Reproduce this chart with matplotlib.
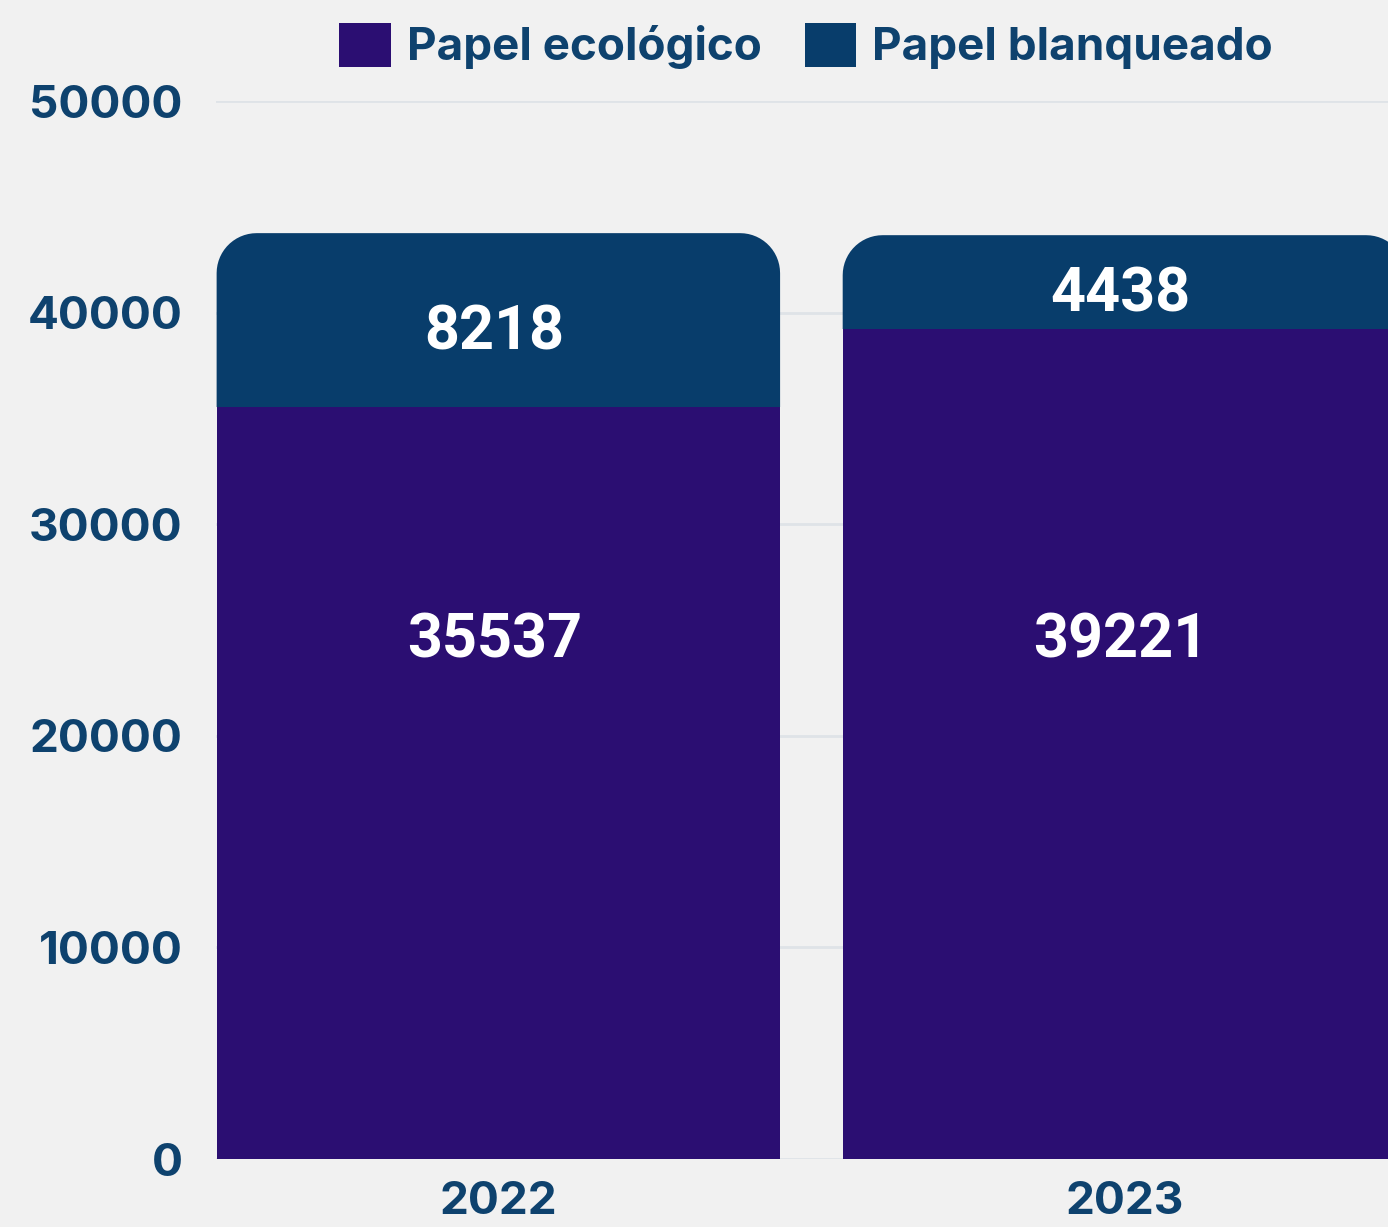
import matplotlib
matplotlib.use('Agg')
import matplotlib.pyplot as plt
from matplotlib.patches import PathPatch, Patch
from matplotlib.path import Path
import numpy as np

# data
years = ['2022', '2023']
ecologico = [35537, 39221]
blanqueado = [8218, 4438]
series_names = ['Papel ecológico', 'Papel blanqueado']
yticks = [0, 10000, 20000, 30000, 40000, 50000]

C_ECO = '#2b0e72'
C_BLA = '#083d6b'
C_TEXT = '#0e426e'
BG = '#f1f1f1'
GRID = '#dfe3e7'
FS = 33


def top_rounded(x0, x1, y0, y1, rx, ry, n=16):
    # rectangle with only its two upper corners rounded
    t = np.linspace(0, np.pi / 2, n)
    right = np.column_stack([x1 - rx + rx * np.cos(t), y1 - ry + ry * np.sin(t)])
    left = np.column_stack([x0 + rx - rx * np.sin(t), y1 - ry + ry * np.cos(t)])
    verts = np.vstack([[x0, y0], [x1, y0], right, left, [x0, y0]])
    codes = [Path.MOVETO] + [Path.LINETO] * (len(verts) - 2) + [Path.CLOSEPOLY]
    return Path(verts, codes)


W, H = 1388, 1227
fig = plt.figure(figsize=(W / 100, H / 100), dpi=100, facecolor=BG)
left, bottom, top = 216, 68, 1126
ax = fig.add_axes([left / W, bottom / H, 1 - left / W, (top - bottom) / H])
ax.set_facecolor(BG)

x = np.arange(len(years))
width = 0.9
xlim = (-0.451, 1.421)
ylim = (0, 50000)
ax.set_xlim(*xlim)
ax.set_ylim(*ylim)

# corner radius given in pixels, turned into data units
x_per_px = (xlim[1] - xlim[0]) / (W - left)
y_per_px = (ylim[1] - ylim[0]) / (top - bottom)
r_px = 40

ax.bar(x, ecologico, width=width, color=C_ECO, zorder=3, linewidth=0)
for xi, e, b in zip(x, ecologico, blanqueado):
    p = top_rounded(xi - width / 2, xi + width / 2, e, e + b,
                    r_px * x_per_px, r_px * y_per_px)
    ax.add_patch(PathPatch(p, facecolor=C_BLA, edgecolor='none', zorder=2))

lab = dict(family='Roboto', weight='bold', size=44, color='white',
           ha='center', va='center', zorder=5)
for xi, e, b in zip(x, ecologico, blanqueado):
    ax.text(xi - 0.006, e + b / 2 - 600, str(b), **lab)
    ax.text(xi - 0.006, 24500, str(e), **lab)

ax.set_yticks(yticks)
ax.set_yticklabels([str(t) for t in yticks])
ax.set_xticks(x)
ax.set_xticklabels(years)
for t in ax.get_yticklabels() + ax.get_xticklabels():
    t.set_fontfamily('Inter')
    t.set_fontweight('bold')
    t.set_fontsize(FS)
    t.set_color(C_TEXT)
ax.tick_params(axis='y', length=0, pad=24)
ax.tick_params(axis='x', length=0, pad=16)

ax.yaxis.grid(True, color=GRID, lw=2)
ax.set_axisbelow(True)
for s in ax.spines.values():
    s.set_visible(False)

handles = [Patch(facecolor=C_ECO), Patch(facecolor=C_BLA)]
fig.legend(handles, series_names, loc='center', bbox_to_anchor=(806 / W, 1 - 46 / H),
           ncol=2, frameon=False, labelcolor=C_TEXT,
           prop=dict(family='Inter', weight='bold', size=FS),
           handlelength=1.13, handleheight=1.13, handletextpad=0.35, columnspacing=0.94,
           borderpad=0, borderaxespad=0)

fig.savefig('out.png', dpi=100, facecolor=BG)
